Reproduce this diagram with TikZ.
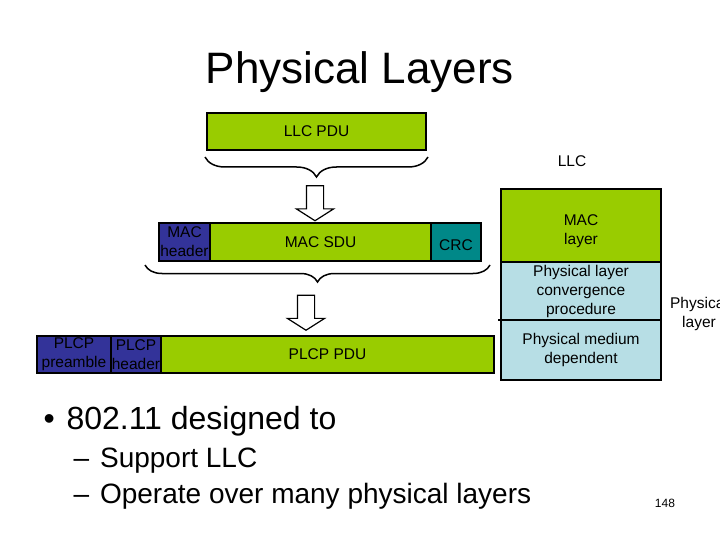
\documentclass[tikz,border=0pt]{standalone}
\usepackage{fontspec}
\setmainfont{Liberation Sans}
\usepackage{xcolor}
\usepackage{tikz}
\usetikzlibrary{positioning, shapes.arrows, decorations.pathreplacing}

\definecolor{verdeLLC}{RGB}{153,204,0}
\definecolor{bluMAC}{RGB}{51,51,153}
\definecolor{verdeacqua}{RGB}{0,136,136}
\definecolor{azzurro}{RGB}{183,222,229}

\begin{document}
\begin{tikzpicture}[x=1pt, y=-1pt,
    blocco/.style={draw, line width=1.2pt, inner sep=0pt, outer sep=0pt, align=center,
        font=\fontsize{15.5}{19}\selectfont, anchor=north west},
    freccia/.style={single arrow, draw, line width=1.2pt, fill=white, shape border rotate=270,
        minimum height=35pt, minimum width=36pt, single arrow head extend=10pt,
        single arrow tip angle=115, inner sep=8pt},
    graffa/.style={decorate, decoration={brace, mirror, amplitude=#1}, line width=1.5pt}]
    \useasboundingbox (0,0) rectangle (720,540);

    % Titolo
    \node[anchor=base, font=\fontsize{44}{52}\selectfont] (titolo) at (360,84) {Physical Layers};

    % LLC PDU e graffa
    \node[blocco, fill=verdeLLC, minimum width=219pt, minimum height=37pt] (llcpdu) at (207,113) {LLC PDU};
    \draw[graffa=20pt] ([xshift=-2pt, yshift=-7pt]llcpdu.south west) -- ([xshift=2pt, yshift=-7pt]llcpdu.south east);
    \node[freccia] (frecciaA) at (315,200.5) {};

    % Trama MAC
    \node[blocco, fill=bluMAC, minimum width=51pt, minimum height=38pt] (machdr) at (159,223) {MAC\\header};
    \node[blocco, fill=verdeLLC, minimum width=221pt, minimum height=38pt, right=0pt of machdr] (macsdu) {MAC SDU};
    \node[blocco, fill=verdeacqua, minimum width=50pt, minimum height=38pt, right=0pt of macsdu] (crc) {\rule{0pt}{17pt}CRC};
    \draw[graffa=17pt] ([xshift=-14pt, yshift=-4pt]machdr.south west) -- ([xshift=9pt, yshift=-4pt]crc.south east);
    \node[freccia] (frecciaB) at (306,310) {};

    % Trama PLCP
    \node[blocco, fill=bluMAC, minimum width=74pt, minimum height=37pt] (preamb) at (37,336) {PLCP\\preamble};
    \node[blocco, fill=bluMAC, minimum width=50pt, minimum height=37pt, right=0pt of preamb] (plcphdr) {PLCP\\header};
    \node[blocco, fill=verdeLLC, minimum width=333pt, minimum height=37pt, right=0pt of plcphdr] (plcppdu) {PLCP PDU};

    % Pila dei livelli
    \node[blocco, fill=verdeLLC, minimum width=160pt, minimum height=73pt] (maclayer) at (501,189) {\rule{0pt}{23pt}MAC\\layer};
    \node[blocco, fill=azzurro, minimum width=160pt, minimum height=58pt, below=0pt of maclayer] (plcp) {Physical layer\\convergence\\procedure};
    \node[blocco, fill=azzurro, minimum width=160pt, minimum height=60pt, below=0pt of plcp] (pmd) {Physical medium\\dependent};
    \draw[line width=1.2pt] ([xshift=-3pt]pmd.north west) -- (pmd.north west);

    % Etichette
    \node[font=\fontsize{15.5}{19}\selectfont] (llc) at (572,161) {LLC};
    \node[font=\fontsize{15.5}{19}\selectfont, align=center] (phy) at (699,314) {Physical\\layer};
    \node[font=\fontsize{12}{14}\selectfont] (pagina) at (665,503) {148};

    % Elenco puntato
    \node[anchor=base west, font=\fontsize{32}{38}\selectfont] (punto) at (40,429) {\textbullet};
    \node[anchor=base west, font=\fontsize{32}{38}\selectfont] (voce) at (63,429) {802.11 designed to};
    \node[anchor=base west, font=\fontsize{28}{34}\selectfont] (sub1) at (70,467) {–\kern11pt Support LLC};
    \node[anchor=base west, font=\fontsize{28}{34}\selectfont] (sub2) at (70,503) {–\kern11pt Operate over many physical layers};
\end{tikzpicture}
\end{document}
